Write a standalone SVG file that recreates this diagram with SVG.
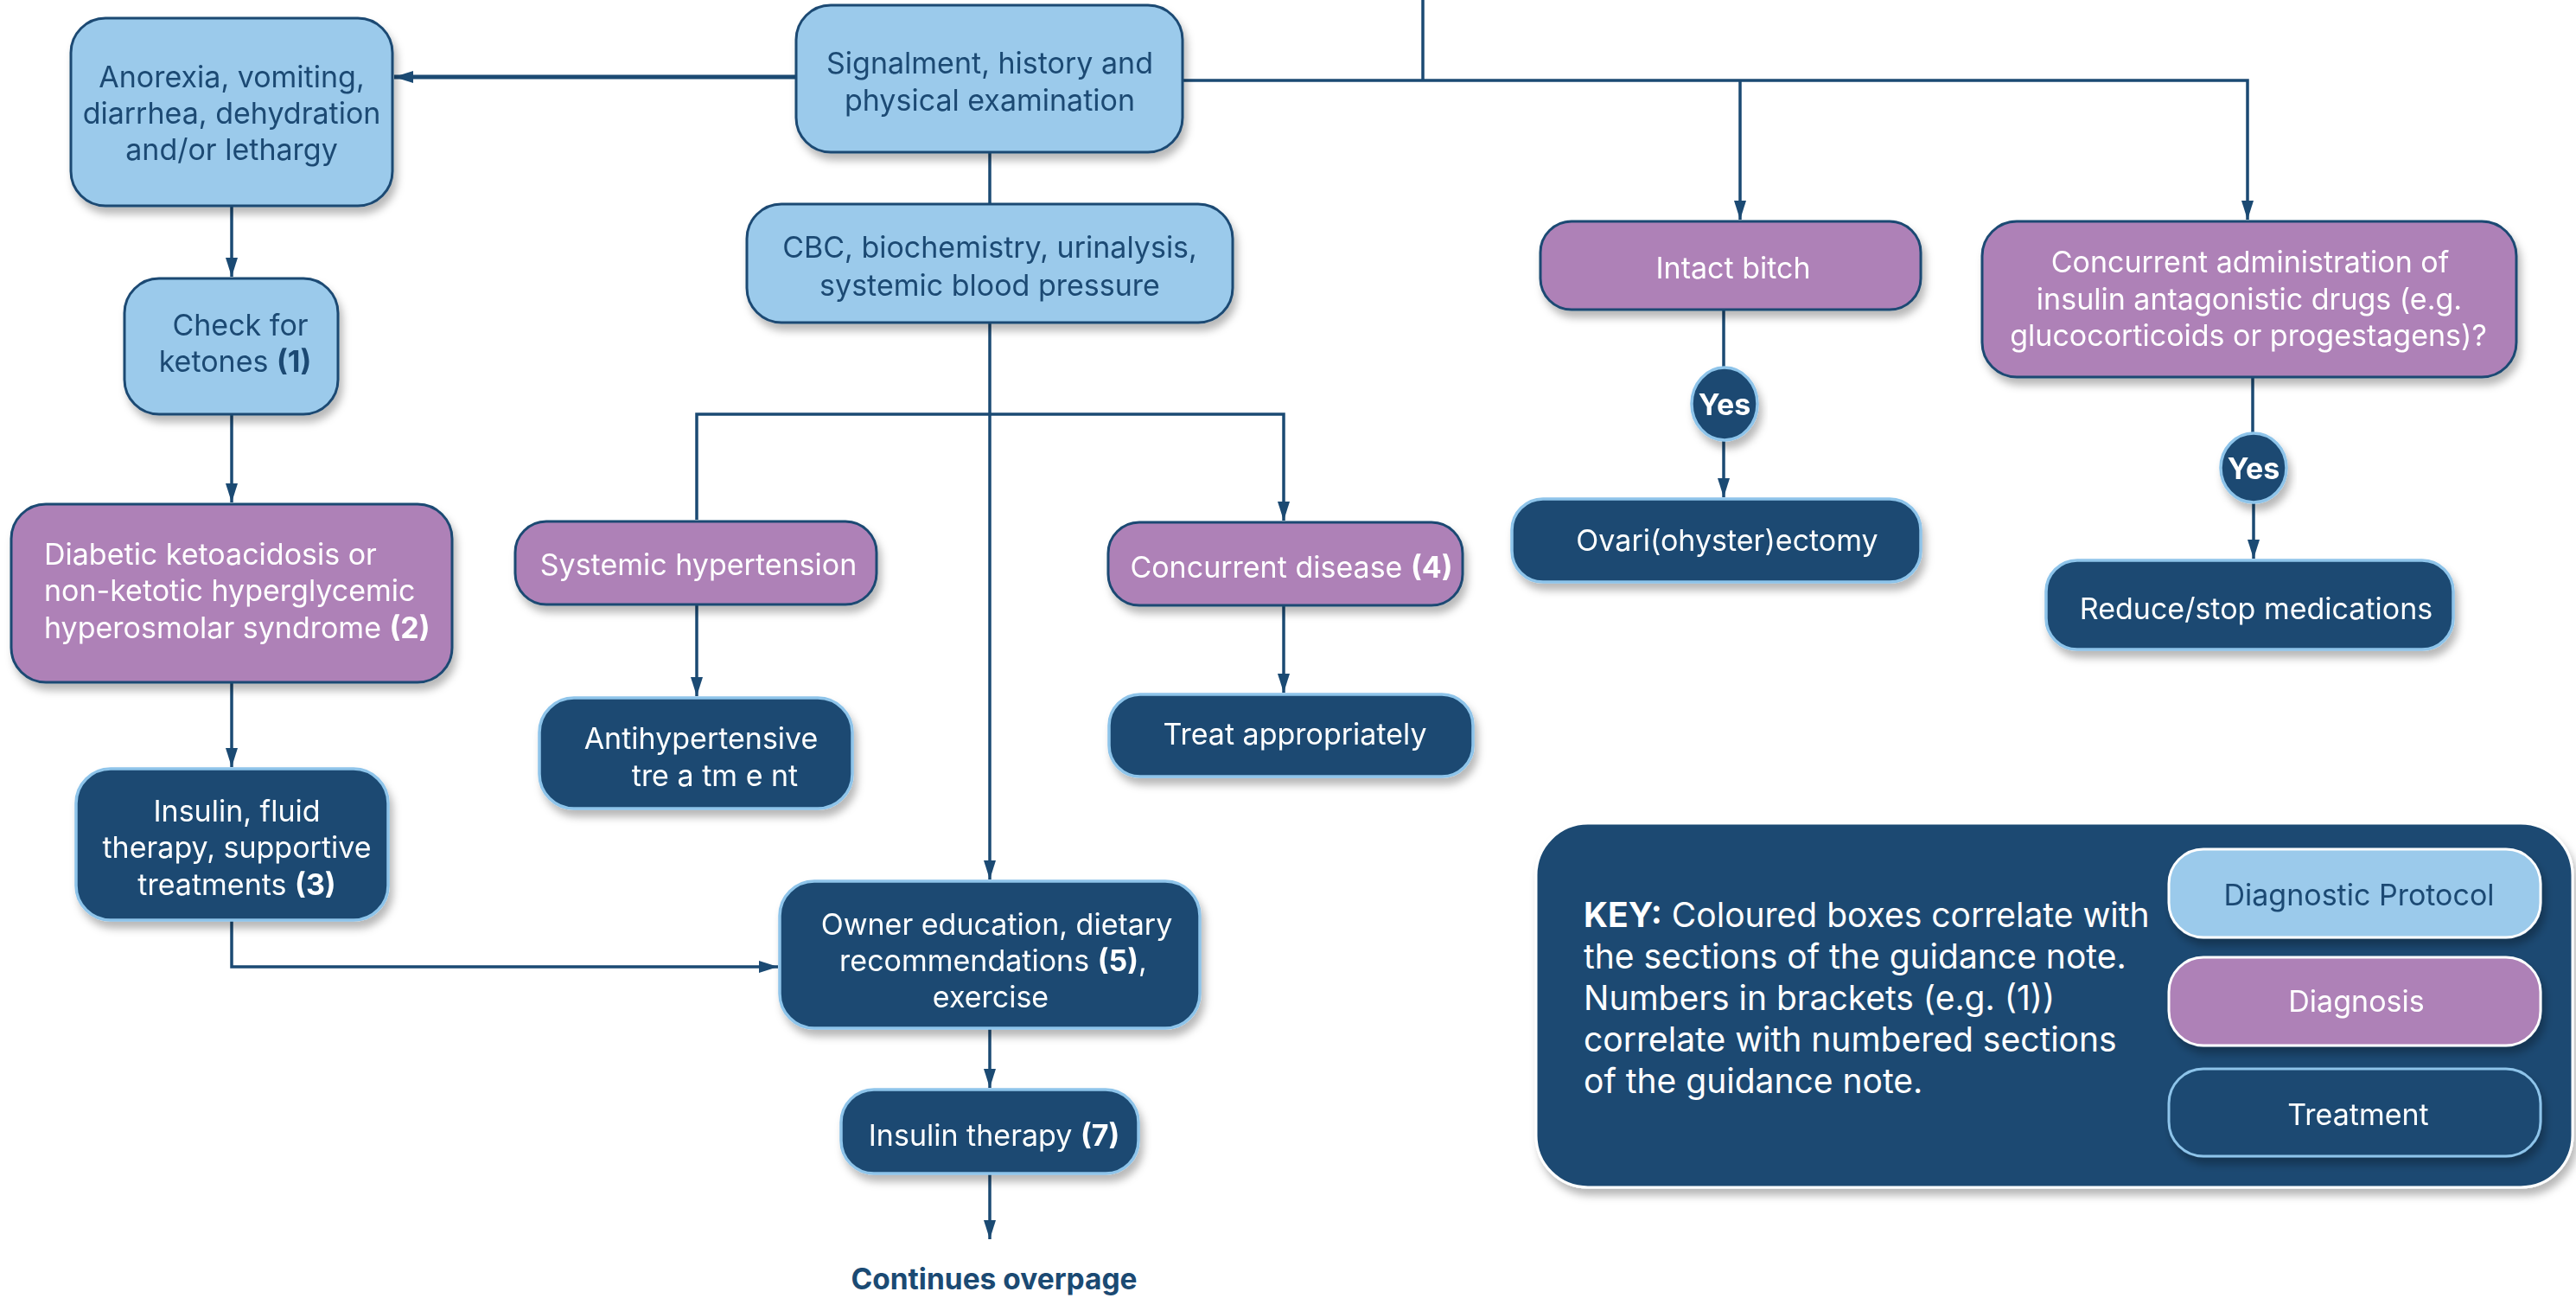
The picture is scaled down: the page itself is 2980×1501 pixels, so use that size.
<svg xmlns="http://www.w3.org/2000/svg" width="2980" height="1501" viewBox="0 0 2980 1501">
<defs>
<style>
.lb{fill:#9BCAEB;stroke:#1B4A73;stroke-width:3}
.pu{fill:#AE81B7;stroke:#1B4A73;stroke-width:3}
.nv{fill:#1A4A72;stroke:#8EC4EA;stroke-width:3.5}
.t{font-family:Inter,"Open Sans","Liberation Sans",sans-serif;font-size:34px;text-anchor:middle}
.tl{text-anchor:start}
.td{fill:#1B4A73}
.tw{fill:#FFFFFF}
.b{font-weight:700}
.conn path{fill:none;stroke:#1B4A73;stroke-width:3.5}
.conn .thick{stroke-width:5}
</style>
<filter id="sh" x="-10%" y="-10%" width="125%" height="140%">
<feDropShadow dx="4" dy="8" stdDeviation="5" flood-color="#000" flood-opacity="0.28"/>
</filter>
<marker id="ar" markerUnits="userSpaceOnUse" markerWidth="24" markerHeight="16" refX="22" refY="8" orient="auto">
<path d="M0,1 L22,8 L0,15 z" fill="#1B4A73"/>
</marker>
</defs>
<rect width="2980" height="1501" fill="#FFFFFF"/>

<g class="conn">
<path class="thick" d="M921,89 H456" marker-end="url(#ar)"/>
<path d="M268,238 V320" marker-end="url(#ar)"/>
<path d="M268,479 V581" marker-end="url(#ar)"/>
<path d="M268,789 V887" marker-end="url(#ar)"/>
<path d="M268,1064 V1118 H900" marker-end="url(#ar)"/>
<path d="M1145,176 V236"/>
<path d="M1145,373 V1017" marker-end="url(#ar)"/>
<path d="M806,601 V479 H1485 V602" marker-end="url(#ar)"/>
<path d="M806,699 V805" marker-end="url(#ar)"/>
<path d="M1485,700 V801" marker-end="url(#ar)"/>
<path d="M1145,1189 V1258" marker-end="url(#ar)"/>
<path d="M1145,1357 V1433" marker-end="url(#ar)"/>
<path d="M1646,0 V93"/>
<path d="M1368,93 H2600 V254" marker-end="url(#ar)"/>
<path d="M2013,93 V254" marker-end="url(#ar)"/>
<path d="M1994,358 V425"/>
<path d="M1994,509 V575" marker-end="url(#ar)"/>
<path d="M2606,436 V501"/>
<path d="M2607,581 V646" marker-end="url(#ar)"/>
</g>

<g id="n-anorexia" filter="url(#sh)">
<rect class="lb" x="82" y="21" width="372" height="217" rx="40"/>
<text class="t td"><tspan x="268" y="101">Anorexia, vomiting,</tspan><tspan x="268" y="143">diarrhea, dehydration</tspan><tspan x="268" y="185">and/or lethargy</tspan></text>
</g>
<g id="n-signalment" filter="url(#sh)">
<rect class="lb" x="921" y="6" width="447" height="170" rx="40"/>
<text class="t td"><tspan x="1145" y="85">Signalment, history and</tspan><tspan x="1145" y="128">physical examination</tspan></text>
</g>
<g id="n-cbc" filter="url(#sh)">
<rect class="lb" x="864" y="236" width="562" height="137" rx="40"/>
<text class="t td"><tspan x="1145" y="298">CBC, biochemistry, urinalysis,</tspan><tspan x="1145" y="342">systemic blood pressure</tspan></text>
</g>
<g id="n-ketones" filter="url(#sh)">
<rect class="lb" x="144" y="322" width="247" height="157" rx="40"/>
<text class="t td"><tspan x="278" y="388">Check for</tspan><tspan x="272" y="430">ketones <tspan class="b">(1)</tspan></tspan></text>
</g>
<g id="n-dka" filter="url(#sh)">
<rect class="pu" x="13" y="583" width="510" height="206" rx="40"/>
<text class="t tl tw"><tspan x="51" y="653">Diabetic ketoacidosis or</tspan><tspan x="51" y="695">non-ketotic hyperglycemic</tspan><tspan x="51" y="738">hyperosmolar syndrome <tspan class="b">(2)</tspan></tspan></text>
</g>
<g id="n-insulin-fluid" filter="url(#sh)">
<rect class="nv" x="88" y="889" width="361" height="175" rx="40"/>
<text class="t tw"><tspan x="274" y="950">Insulin, fluid</tspan><tspan x="274" y="992">therapy, supportive</tspan><tspan x="274" y="1035">treatments <tspan class="b">(3)</tspan></tspan></text>
</g>
<g id="n-hypertension" filter="url(#sh)">
<rect class="pu" x="596" y="603" width="418" height="96" rx="36"/>
<text class="t tw" x="808" y="665">Systemic hypertension</text>
</g>
<g id="n-antihypertensive" filter="url(#sh)">
<rect class="nv" x="624" y="807" width="362" height="128" rx="40"/>
<text class="t tw"><tspan x="811" y="866">Antihypertensive</tspan><tspan x="827" y="909">tre a tm e nt</tspan></text>
</g>
<g id="n-concurrent-disease" filter="url(#sh)">
<rect class="pu" x="1282" y="604" width="410" height="96" rx="36"/>
<text class="t tw" x="1494" y="668">Concurrent disease <tspan class="b">(4)</tspan></text>
</g>
<g id="n-treat" filter="url(#sh)">
<rect class="nv" x="1283" y="803" width="421" height="95" rx="36"/>
<text class="t tw" x="1498" y="861">Treat appropriately</text>
</g>
<g id="n-owner" filter="url(#sh)">
<rect class="nv" x="902" y="1019" width="486" height="170" rx="40"/>
<text class="t tw"><tspan x="1153" y="1081">Owner education, dietary</tspan><tspan x="1149" y="1123">recommendations <tspan class="b">(5)</tspan>,</tspan><tspan x="1146" y="1165">exercise</tspan></text>
</g>
<g id="n-insulin-therapy" filter="url(#sh)">
<rect class="nv" x="973" y="1260" width="344" height="97" rx="38"/>
<text class="t tw" x="1150" y="1325">Insulin therapy <tspan class="b">(7)</tspan></text>
</g>
<g id="n-continues">
<text class="t td b" x="1150" y="1491" style="font-size:33.5px">Continues overpage</text>
</g>
<g id="n-intact" filter="url(#sh)">
<rect class="pu" x="1782" y="256" width="440" height="102" rx="36"/>
<text class="t tw" x="2005" y="322">Intact bitch</text>
</g>
<g id="n-yes1" filter="url(#sh)">
<ellipse class="nv" cx="1995" cy="467" rx="38" ry="42"/>
<text class="t tw b" x="1995" y="480" style="font-size:34px">Yes</text>
</g>
<g id="n-ovari" filter="url(#sh)">
<rect class="nv" x="1749" y="577" width="473" height="96" rx="36"/>
<text class="t tw" x="1998" y="637">Ovari(ohyster)ectomy</text>
</g>
<g id="n-drugs" filter="url(#sh)">
<rect class="pu" x="2293" y="256" width="618" height="180" rx="40"/>
<text class="t tw"><tspan x="2603" y="315">Concurrent administration of</tspan><tspan x="2602" y="358">insulin antagonistic drugs (e.g.</tspan><tspan x="2601" y="400">glucocorticoids or progestagens)?</tspan></text>
</g>
<g id="n-yes2" filter="url(#sh)">
<ellipse class="nv" cx="2607" cy="541" rx="38" ry="40"/>
<text class="t tw b" x="2607" y="554" style="font-size:34px">Yes</text>
</g>
<g id="n-reduce" filter="url(#sh)">
<rect class="nv" x="2367" y="648" width="471" height="103" rx="36"/>
<text class="t tw" x="2610" y="716">Reduce/stop medications</text>
</g>

<g id="key">
<rect x="1777" y="952" width="1199" height="421" rx="60" fill="#1A4A72" stroke="#FFFFFF" stroke-width="3" filter="url(#sh)"/>
<text class="t tl tw" style="font-size:39px"><tspan x="1832" y="1072"><tspan class="b">KEY:</tspan> Coloured boxes correlate with</tspan><tspan x="1832" y="1120">the sections of the guidance note.</tspan><tspan x="1832" y="1168">Numbers in brackets (e.g. (1))</tspan><tspan x="1832" y="1216">correlate with numbered sections</tspan><tspan x="1832" y="1264">of the guidance note.</tspan></text>
<g id="key-diagnostic" filter="url(#sh)">
<rect x="2509" y="982" width="430" height="102" rx="40" fill="#9BCAEB" stroke="#FFFFFF" stroke-width="3"/>
<text class="t td" x="2729" y="1047">Diagnostic Protocol</text>
</g>
<g id="key-diagnosis" filter="url(#sh)">
<rect x="2509" y="1107" width="430" height="102" rx="40" fill="#AE81B7" stroke="#FFFFFF" stroke-width="3"/>
<text class="t tw" x="2726" y="1170">Diagnosis</text>
</g>
<g id="key-treatment" filter="url(#sh)">
<rect x="2509" y="1236" width="430" height="101" rx="40" fill="#1A4A72" stroke="#8EC4EA" stroke-width="3"/>
<text class="t tw" x="2728" y="1301">Treatment</text>
</g>
</g>
</svg>
